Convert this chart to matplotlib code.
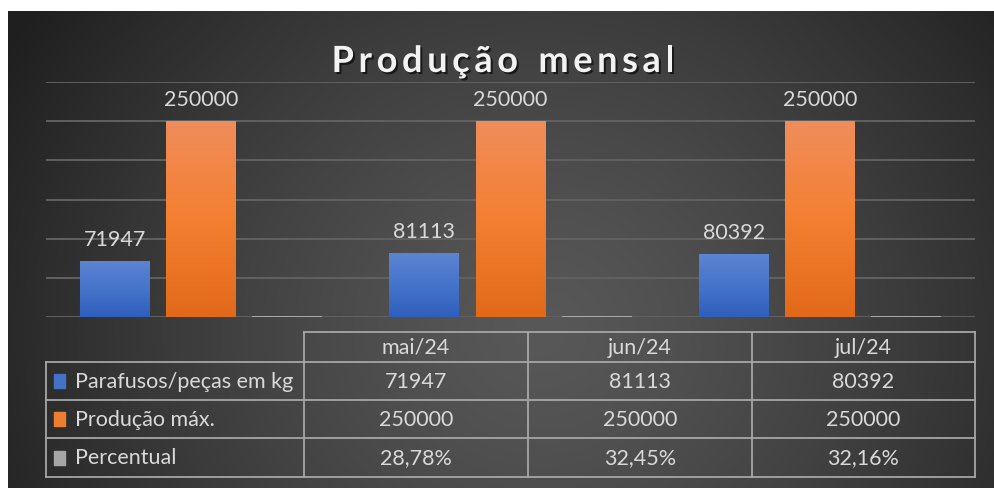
import numpy as np
import matplotlib.pyplot as plt
import matplotlib.patheffects as pe
from matplotlib.colors import LinearSegmentedColormap
from matplotlib.patches import Rectangle

# data
meses = ['mai/24', 'jun/24', 'jul/24']
series = ['Parafusos/peças em kg', 'Produção máx.', 'Percentual']
parafusos = [71947, 81113, 80392]
producao_max = [250000, 250000, 250000]
percentual = [0.2878, 0.3245, 0.3216]
titulo = 'Produção mensal'

W, H = 995, 488
txt_col = '#d9d9d9'
line_col = '#a6a6a6'
font = 'Lato'

fig = plt.figure(figsize=(W / 100, H / 100), dpi=100)

# background with radial gradient (pixel coords)
bg = fig.add_axes([0, 0, 1, 1])
bg.set_xlim(0, W)
bg.set_ylim(H, 0)
bg.axis('off')
yy, xx = np.mgrid[11:H, 8:W]
r = np.clip(np.hypot(xx - 540, (yy - 330) * 1.1) / 620, 0, 1)
c0 = np.array([0x58, 0x58, 0x58]) / 255
c1 = np.array([0x1f, 0x1f, 0x1f]) / 255
img = c0 + (c1 - c0) * (r[..., None] ** 1.3)
bg.imshow(img, extent=(8, W, H, 11), aspect='auto', interpolation='bilinear')

# chart area
ax = fig.add_axes([46 / W, (H - 317) / H, (975 - 46) / W, (317 - 82) / H])
ax.patch.set_alpha(0)
ax.axis('off')
for y in range(0, 300001, 50000):
    ax.axhline(y, color='#616161', lw=1.4, zorder=1)

x = np.arange(len(meses))
w = 0.226
off = 0.278
blue_cmap = LinearSegmentedColormap.from_list('b', ['#5c84d2', '#4674cb', '#2e5fbc'])
orange_cmap = LinearSegmentedColormap.from_list('o', ['#f08d5c', '#f47f30', '#e2691a'])
grad = np.linspace(0, 1, 256).reshape(-1, 1)


def grad_bars(xs, vals, cmap):
    bars = ax.bar(xs, vals, w, color='none', zorder=3)
    for b in bars:
        x0, y0 = b.get_x(), b.get_y()
        im = ax.imshow(grad, extent=(x0, x0 + b.get_width(), y0, y0 + b.get_height()),
                       aspect='auto', cmap=cmap, zorder=3)
        im.set_clip_path(b)
    ax.bar_label(bars, labels=[str(v) for v in vals], padding=8,
                 color=txt_col, fontsize=15.5, family=font)
    return bars


grad_bars(x - off, parafusos, blue_cmap)
grad_bars(x, producao_max, orange_cmap)
ax.bar(x + off, percentual, w, color='#b0b0b0', edgecolor='#b0b0b0', lw=1.3, zorder=3)
ax.set_xlim(-0.5, len(meses) - 0.5)
ax.set_ylim(0, 300000)

# overlay for title and data table
ov = fig.add_axes([0, 0, 1, 1])
ov.patch.set_alpha(0)
ov.set_xlim(0, W)
ov.set_ylim(H, 0)
ov.axis('off')

# title with letter spacing: place characters one by one
renderer = fig.canvas.get_renderer()
tkw = dict(fontsize=26, fontweight='bold', family=font, color='#f2f2f2',
           path_effects=[pe.withSimplePatchShadow(offset=(1.5, -1.5), shadow_rgbFace='black', alpha=0.6)])
spacing = 4.6
widths = []
for ch in titulo:
    t = ov.text(0, 0, ch if ch != ' ' else 'n', **tkw)
    bb = t.get_window_extent(renderer)
    widths.append(bb.width * (0.55 if ch == ' ' else 1.0))
    t.remove()
total = sum(widths) + spacing * (len(titulo) - 1)
cx = 503 - total / 2
for ch, wd in zip(titulo, widths):
    if ch != ' ':
        ov.text(cx, 72, ch, ha='left', va='baseline', **tkw)
    cx += wd + spacing

col_x = [46, 304, 528, 752, 975]
row_y = [332, 362, 400, 438, 477]
ov.plot([col_x[1], col_x[-1]], [row_y[0], row_y[0]], color=line_col, lw=1.3)
for y in row_y[1:]:
    ov.plot([col_x[0], col_x[-1]], [y, y], color=line_col, lw=1.3)
for cxl in col_x[1:]:
    ov.plot([cxl, cxl], [row_y[0], row_y[-1]], color=line_col, lw=1.3)
ov.plot([col_x[0], col_x[0]], [row_y[1], row_y[-1]], color=line_col, lw=1.3)

fs = 15.5
for i, m in enumerate(meses):
    ov.text((col_x[i + 1] + col_x[i + 2]) / 2, (row_y[0] + row_y[1]) / 2 + 1, m,
            ha='center', va='center', fontsize=fs, family=font, color=txt_col)

rows = [
    [str(v) for v in parafusos],
    [str(v) for v in producao_max],
    [f'{v * 100:.2f}%'.replace('.', ',') for v in percentual],
]
swatch = ['#4472c4', '#ed7d31', '#a5a5a5']
for j, (name, vals) in enumerate(zip(series, rows)):
    cy = (row_y[j + 1] + row_y[j + 2]) / 2
    ov.add_patch(Rectangle((54, cy - 7), 11, 14, color=swatch[j]))
    ov.text(75, cy + 1, name, ha='left', va='center', fontsize=fs, family=font, color=txt_col)
    for i, v in enumerate(vals):
        ov.text((col_x[i + 1] + col_x[i + 2]) / 2, cy + 1, v,
                ha='center', va='center', fontsize=fs, family=font, color=txt_col)

fig.savefig('out.png', dpi=100, facecolor='white')
